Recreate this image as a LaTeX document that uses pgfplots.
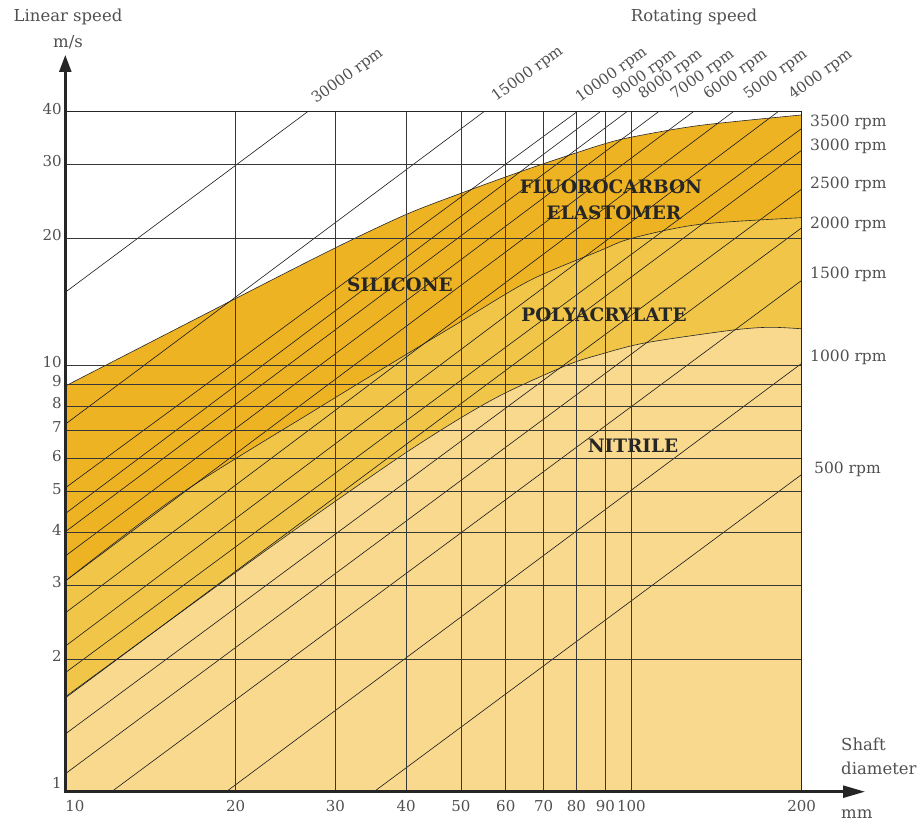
\documentclass[border=0pt]{standalone}
\usepackage{pgfplots}
\pgfplotsset{compat=1.18}
\usepackage{fontspec}
\setmainfont{DejaVu Serif}
\usetikzlibrary{arrows.meta}
\definecolor{cdark}{RGB}{238,179,35}
\definecolor{cmed}{RGB}{240,197,72}
\definecolor{clight}{RGB}{248,217,142}
\definecolor{txt}{RGB}{80,80,80}
\definecolor{gridc}{RGB}{55,55,55}
\begin{document}
\begin{tikzpicture}[x=1pt,y=1pt]
\path[use as bounding box] (0,0) rectangle (924,822);
\begin{axis}[
  at={(65.3pt,30.3pt)}, anchor=south west, scale only axis,
  width=736.4pt, height=680pt,
  xmode=log, ymode=log, xmin=10, xmax=200, ymin=0.97, ymax=40,
  xtick={10,20,30,40,50,60,70,80,90,100,200},
  xticklabels={\makebox[0pt][l]{10},20,30,40,50,60,70,80,90,100,200},
  ytick={2,3,4,5,6,7,8,9,10,20,30,40},
  yticklabels={2,3,4,5,6,7,8,9,10,20,30,40},
  extra y ticks={1}, extra y tick labels={1},
  extra y tick style={grid=none},
  minor xtick={}, minor ytick={},
  major tick length=0pt,
  grid=major, major grid style={gridc, line width=0.8pt},
  axis on top,
  axis line style={line width=1.4pt, black!85},
  /pgf/number format/assume math mode=true,
  tick label style={font=\fontsize{15}{15}\selectfont, text=txt},
  xticklabel style={yshift=-5pt},
  yticklabel style={yshift=3pt},
]
% regions
\addplot[draw=none, fill=cdark, smooth, tension=0.5] coordinates {
 (10,8.92) (20,14.4) (30,19.0) (40,22.8) (50,25.6) (60,28.0) (70,30.1) (88,33.3) (100,34.8) (132,37.1) (200,39.3)
} -- (axis cs:200,0.5) -- (axis cs:10,0.5) -- cycle;
\addplot[draw=none, fill=cmed, smooth, tension=0.5] coordinates {
 (10,3.07) (16,4.95) (28.2,7.96) (40,10.6) (50,12.7) (66.2,15.9) (88,18.7) (100,20.0) (132,21.6) (200,22.4)
} -- (axis cs:200,0.5) -- (axis cs:10,0.5) -- cycle;
\addplot[draw=none, fill=clight, smooth, tension=0.5] coordinates {
 (10,1.63) (21.4,3.44) (30,4.75) (40,6.2) (50,7.5) (60,8.6) (77,10.0) (88,10.6) (106,11.3) (150,12.1) (175,12.3) (200,12.2)
} -- (axis cs:200,0.5) -- (axis cs:10,0.5) -- cycle;
% region boundaries
\addplot[black!85, line width=0.6pt, smooth, tension=0.5] coordinates {
 (10,8.92) (20,14.4) (30,19.0) (40,22.8) (50,25.6) (60,28.0) (70,30.1) (88,33.3) (100,34.8) (132,37.1) (200,39.3)};
\addplot[black!85, line width=0.6pt, smooth, tension=0.5] coordinates {
 (10,3.07) (16,4.95) (28.2,7.96) (40,10.6) (50,12.7) (66.2,15.9) (88,18.7) (100,20.0) (132,21.6) (200,22.4)};
\addplot[black!85, line width=0.6pt, smooth, tension=0.5] coordinates {
 (10,1.63) (21.4,3.44) (30,4.75) (40,6.2) (50,7.5) (60,8.6) (77,10.0) (88,10.6) (106,11.3) (150,12.1) (175,12.3) (200,12.2)};
% rpm lines
\addplot[black!90, line width=0.6pt] coordinates {(10,14.9) (26.8,40)};   % 30000
\addplot[black!90, line width=0.6pt] coordinates {(10,7.24) (54.9,40)};   % 15000
\addplot[black!90, line width=0.6pt] coordinates {(10,5.11) (80.2,40)};   % 10000
\addplot[black!90, line width=0.6pt] coordinates {(10,4.44) (88.1,40)};   % 9000
\addplot[black!90, line width=0.6pt] coordinates {(10,4.02) (98.2,40)};   % 8000
\addplot[black!90, line width=0.6pt] coordinates {(10,3.52) (111.7,40)};  % 7000
\addplot[black!90, line width=0.6pt] coordinates {(10,3.07) (128.7,40)};  % 6000
\addplot[black!90, line width=0.6pt] coordinates {(10,2.58) (151.4,40)};  % 5000
\addplot[black!90, line width=0.6pt] coordinates {(10,2.15) (181.7,40)};  % 4000
\addplot[black!90, line width=0.6pt] coordinates {(10,1.86) (200,36.5)};  % 3500
\addplot[black!90, line width=0.6pt] coordinates {(10,1.62) (200,32.4)};  % 3000
\addplot[black!90, line width=0.6pt] coordinates {(10,1.33) (200,26.2)};  % 2500
\addplot[black!90, line width=0.6pt] coordinates {(10,1.07) (200,21.2)};  % 2000
\addplot[black!90, line width=0.6pt] coordinates {(12.07,0.97) (200,15.9)}; % 1500
\addplot[black!90, line width=0.6pt] coordinates {(19.25,0.97) (200,10.1)}; % 1000
\addplot[black!90, line width=0.6pt] coordinates {(35.1,0.97) (200,5.5)};   % 500
\end{axis}
% thick axes with arrows
\draw[line width=2.5pt, black!85, -{Triangle[length=17pt,width=12pt]}] (65.3,29.1) -- (65.3,767);
\draw[line width=2.5pt, black!85, -{Triangle[length=22pt,width=12pt]}] (64.05,30.3) -- (865,30.3);
% titles
\begin{scope}[every node/.style={text=txt, font=\fontsize{16.5}{16.5}\selectfont, inner sep=0pt}]
\node at (68,805) {Linear speed};
\node at (68,780) {m/s};
\node at (694,805) {Rotating speed};
\node[anchor=base west] at (841,71) {Shaft};
\node[anchor=base west] at (841,47) {diameter};
\node[anchor=base west] at (841,3) {mm};
\end{scope}
% rpm labels at right
\begin{scope}[every node/.style={text=txt, font=\fontsize{15.5}{15.5}\selectfont, inner sep=0pt, anchor=base west}]
\node at (810,695.5) {3500 rpm};
\node at (810,671.5) {3000 rpm};
\node at (810,633.5) {2500 rpm};
\node at (810,593.5) {2000 rpm};
\node at (810,543.5) {1500 rpm};
\node at (810,460.5) {1000 rpm};
\node at (814,348.5) {500 rpm};
\end{scope}
% rpm labels at top
\begin{scope}[every node/.style={text=txt, font=\fontsize{15}{15}\selectfont, inner sep=0pt, anchor=base west, rotate=36}]
\node at (316,718) {30000 rpm};
\node at (496,720) {15000 rpm};
\node at (580,719) {10000 rpm};
\node at (617,722) {9000 rpm};
\node at (643,722) {8000 rpm};
\node at (675,722) {7000 rpm};
\node at (708,722) {6000 rpm};
\node at (748,722) {5000 rpm};
\node at (793,722) {4000 rpm};
\end{scope}
% region labels
\begin{scope}[every node/.style={text=black!85, font=\bfseries\fontsize{18.5}{18.5}\selectfont, inner sep=0pt}]
\node at (611,635) {FLUOROCARBON};
\node at (614,609) {ELASTOMER};
\node at (400,537) {SILICONE};
\node at (604,507) {POLYACRYLATE};
\node at (633,376) {NITRILE};
\end{scope}
\end{tikzpicture}
\end{document}
